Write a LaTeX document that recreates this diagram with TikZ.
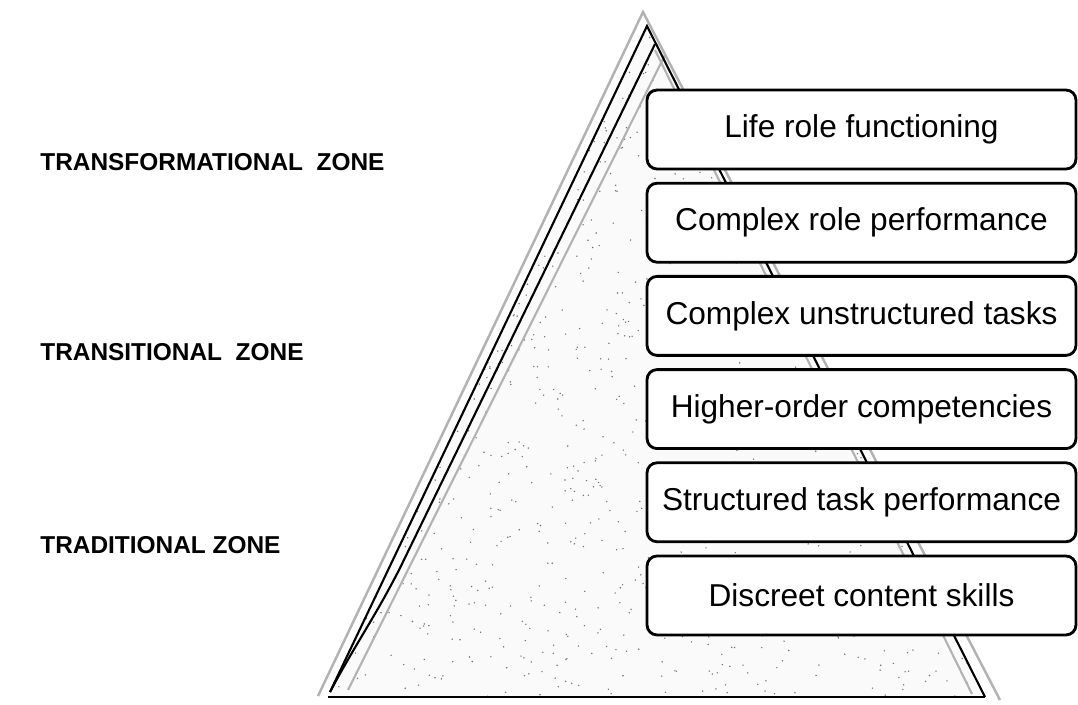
\documentclass[tikz,border=0pt]{standalone}
\usepackage{fontspec}
\setmainfont{Liberation Sans}
\usepackage{tikz}
\usetikzlibrary{positioning}
\tikzset{levelbox/.style = {draw,fill=white,rounded corners=0.2cm,line width=1.6pt,
                            minimum width=8.58cm,minimum height=1.58cm,inner sep=0pt,
                            font=\fontsize{18}{20}\selectfont},
         zonelabel/.style = {anchor=west,inner sep=0pt,font=\fontsize{13.9}{16}\selectfont\bfseries},
         speck/.style = {fill=black!55}}

\begin{document}
\begin{tikzpicture}[x=0.02cm,y=-0.02cm]
                    \useasboundingbox (0,0) rectangle (1078,704);
                    % pyramid corners
                    \coordinate (top) at (647,26);
                    \coordinate (bl) at (330,692);
                    \coordinate (br) at (985,697);
                    \fill[gray!4] (top) -- (bl) -- (330,697) -- (br) -- cycle;
                    % stippled texture
                    \begin{scope}
                      \clip (top) -- (bl) -- (330,697) -- (br) -- cycle;
                      \pgfmathsetseed{7}
                      \foreach \i in {1,...,1400}{
                        \pgfmathsetmacro{\px}{325+665*rnd}
                        \pgfmathsetmacro{\py}{26+672*rnd}
                        \fill[speck] (\px,\py) circle (0.45pt);
                      }
                    \end{scope}
                    % outer and inner rough edges
                    \draw[gray!60,line width=1.4pt] (318,696) -- (643,12) -- (1000,700);
                    \draw[gray!60,line width=1.2pt] (348,690) -- (665,55);
                    \draw[gray!60,line width=1.2pt] (655,50) -- (972,694);
                    % black edges
                    \draw[line width=1.2pt] (bl) -- (top) -- (br);
                    \draw[line width=1.2pt] (bl) to[out=62,in=-117] (400,568) -- (655,44);
                    \draw[line width=1.4pt] (328,697) -- (br);
                    % levels
                    \node[levelbox] (l1) at (861.5,129.5) {Life role functioning};
                    \node[levelbox,below=0.228cm of l1] (l2) {Complex role performance};
                    \node[levelbox,below=0.228cm of l2] (l3) {Complex unstructured tasks};
                    \node[levelbox,below=0.228cm of l3] (l4) {Higher-order competencies};
                    \node[levelbox,below=0.228cm of l4] (l5) {Structured task performance};
                    \node[levelbox,below=0.228cm of l5] (l6) {Discreet content skills};
                    % zones
                    \node[zonelabel] (z1) at (40,162) {TRANSFORMATIONAL\ \ ZONE};
                    \node[zonelabel] (z2) at (40,352) {TRANSITIONAL\ \ ZONE};
                    \node[zonelabel] (z3) at (40,545) {TRADITIONAL ZONE};
                \end{tikzpicture}
\end{document}
